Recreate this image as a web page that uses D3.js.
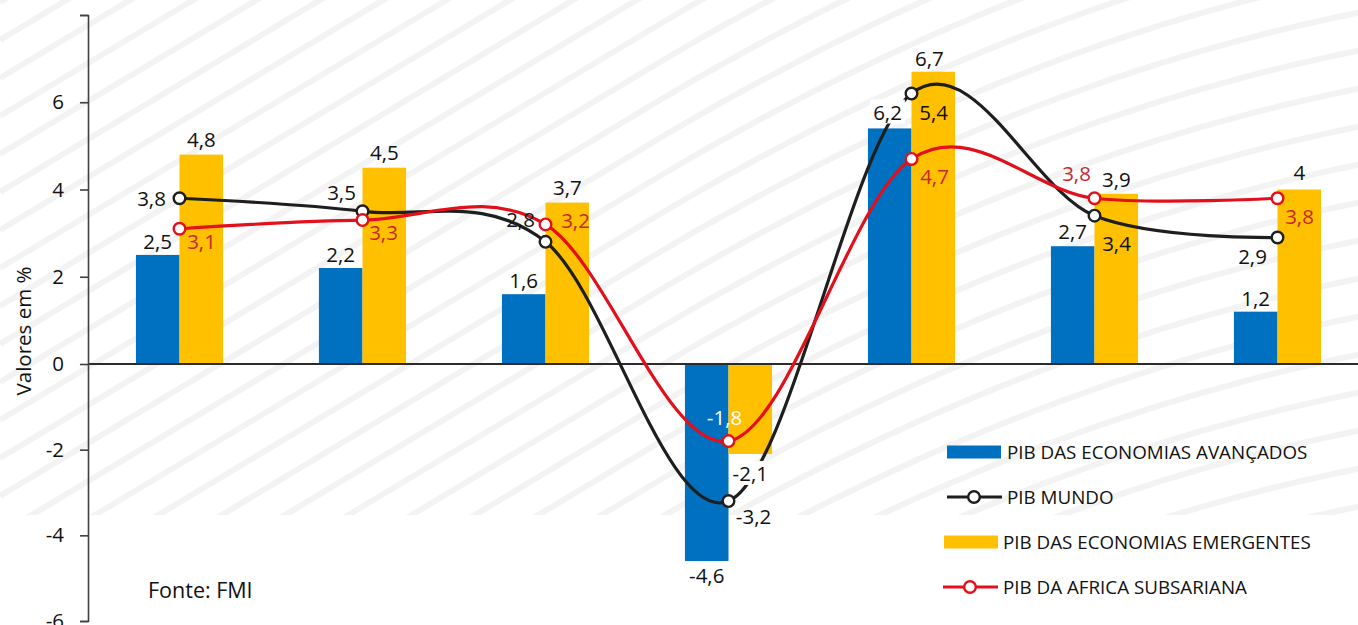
<!DOCTYPE html>
<html>
<head>
<meta charset="utf-8">
<script src="https://cdn.jsdelivr.net/npm/d3@7"></script>
<style>
  html, body { margin: 0; padding: 0; background: #ffffff; }
  svg { display: block; }
  text { font-family: "Open Sans", Lato, sans-serif; }
</style>
</head>
<body>
<svg id="chart" width="1358" height="625"></svg>
<script>
// Crescimento do PIB (%) por ano
const categories = ["2017", "2018", "2019", "2020", "2021", "2022", "2023"];
const avancadas  = [2.5, 2.2, 1.6, -4.6, 5.4, 2.7, 1.2];
const emergentes = [4.8, 4.5, 3.7, -2.1, 6.7, 3.9, 4.0];
const mundo      = [3.8, 3.5, 2.8, -3.2, 6.2, 3.4, 2.9];
const africa     = [3.1, 3.3, 3.2, -1.8, 4.7, 3.8, 3.8];
const yTicks     = [-6, -4, -2, 0, 2, 4, 6, 8];

const seriesNames = {
  avancadas:  "PIB DAS ECONOMIAS AVANÇADOS",
  mundo:      "PIB MUNDO",
  emergentes: "PIB DAS ECONOMIAS EMERGENTES",
  africa:     "PIB DA AFRICA SUBSARIANA"
};

// label placement relative to each mark's end point [dx, dy]
const offAvancadas  = [[0,-14],[0,-14],[0,-14],[0,14],[44,-16],[0,-15],[0,-14]];
const offEmergentes = [[0,-16],[0,-16],[0,-16],[0,19],[-4,-14],[0,-15],[0,-18]];
const offMundo      = [[-28,0],[-21,-19],[-25,-23],[25,15],[-24,18],[22,27],[-25,19]];
const offAfrica     = [[22,12],[21,12],[30,-4],[-4,-24],[23,17],[-18,-25],[22,18]];
// labels drawn on a white box, and labels drawn in white
const boxedLabels = [["emergentes", 3], ["mundo", 4]];
const whiteLabels = [["africa", 3]];

const W = 1358, H = 625;
const colors = { blue: "#0070c0", yellow: "#ffc000", black: "#1e1e1e", red: "#e3101b", redText: "#c5282f" };
const FONT = "'Open Sans', Lato, sans-serif";

const svg = d3.select("#chart");

// ---- background: faint curved diagonal stripes ----
svg.append("rect").attr("width", W).attr("height", H).attr("fill", "#ffffff");
svg.append("clipPath").attr("id", "bgclip")
  .append("rect").attr("x", 0).attr("y", 0).attr("width", W).attr("height", 515);
const rise = x => x <= 650 ? 0.6 * x : 390 + (x - 650) * (0.6 - 0.2 * (x - 650) / 708);
const stripeG = svg.append("g").attr("clip-path", "url(#bgclip)");
const xs = d3.range(0, W + 20, 20);
for (let k = -2; k < 36; k++) {
  const y0 = k * 38;
  stripeG.append("path")
    .attr("d", d3.line()(xs.map(x => [x, y0 - rise(x) + 40])))
    .attr("fill", "none")
    .attr("stroke", "#f3f3f3")
    .attr("stroke-width", 6);
}

// ---- scales ----
const x0 = d3.scaleBand().domain(categories).range([88, 1369]).padding(0);
const x1 = d3.scaleBand().domain(["avancadas", "emergentes"])
  .range([0, x0.bandwidth()]).paddingInner(0).paddingOuter(1.1);
const y = d3.scaleLinear().domain([-6, 0, 8]).range([621, 364, 15]);
const cx = c => x0(c) + x0.bandwidth() / 2;

// ---- bars ----
const barSeries = [
  { key: "avancadas", values: avancadas, color: colors.blue },
  { key: "emergentes", values: emergentes, color: colors.yellow }
];
barSeries.forEach(s => {
  svg.append("g").selectAll("rect")
    .data(s.values)
    .join("rect")
    .attr("x", (d, i) => x0(categories[i]) + x1(s.key))
    .attr("width", x1.bandwidth())
    .attr("y", d => y(Math.max(0, d)))
    .attr("height", d => Math.abs(y(d) - y(0)))
    .attr("fill", s.color);
});

// ---- zero line ----
svg.append("line")
  .attr("x1", 88).attr("x2", W)
  .attr("y1", y(0)).attr("y2", y(0))
  .attr("stroke", "#2b2b2b").attr("stroke-width", 2);

// ---- smoothed lines ----
const lineSeries = [
  { key: "mundo", values: mundo, color: colors.black },
  { key: "africa", values: africa, color: colors.red }
];
const lineGen = d3.line()
  .x((d, i) => cx(categories[i]))
  .y(d => y(d))
  .curve(d3.curveCardinal.tension(0));
lineSeries.forEach(s => {
  svg.append("path")
    .attr("d", lineGen(s.values))
    .attr("fill", "none")
    .attr("stroke", s.color)
    .attr("stroke-width", 3.2);
});
lineSeries.forEach(s => {
  svg.append("g").selectAll("circle")
    .data(s.values)
    .join("circle")
    .attr("cx", (d, i) => cx(categories[i]))
    .attr("cy", d => y(d))
    .attr("r", 5.8)
    .attr("fill", "#ffffff")
    .attr("stroke", s.color)
    .attr("stroke-width", 2.4);
});

// ---- data labels ----
const fmt = v => String(v).replace(".", ",");
const isIn = (list, key, i) => list.some(([k, j]) => k === key && j === i);
const labelSets = [
  { key: "avancadas", values: avancadas, off: offAvancadas, color: "#111111",
    ax: i => x0(categories[i]) + x1("avancadas") + x1.bandwidth() / 2 },
  { key: "emergentes", values: emergentes, off: offEmergentes, color: "#111111",
    ax: i => x0(categories[i]) + x1("emergentes") + x1.bandwidth() / 2 },
  { key: "mundo", values: mundo, off: offMundo, color: "#111111", ax: i => cx(categories[i]) },
  { key: "africa", values: africa, off: offAfrica, color: colors.redText, ax: i => cx(categories[i]) }
];
const labelG = svg.append("g");
labelSets.forEach(s => {
  s.values.forEach((v, i) => {
    const lx = s.ax(i) + s.off[i][0];
    const ly = y(v) + s.off[i][1];
    const t = labelG.append("text")
      .attr("x", lx).attr("y", ly)
      .attr("text-anchor", "middle")
      .attr("dominant-baseline", "central")
      .attr("font-size", 20.5)
      .attr("fill", isIn(whiteLabels, s.key, i) ? "#ffffff" : s.color)
      .text(fmt(v));
    if (isIn(boxedLabels, s.key, i)) {
      const bb = t.node().getBBox();
      labelG.insert("rect", () => t.node())
        .attr("x", bb.x - 3).attr("y", bb.y + 2)
        .attr("width", bb.width + 6).attr("height", bb.height - 4)
        .attr("fill", "#ffffff");
    }
  });
});

// ---- y axis ----
const yAxis = d3.axisLeft(y)
  .tickValues(yTicks)
  .tickSize(8)
  .tickPadding(16)
  .tickFormat(d => d === 8 ? "" : String(d));
const gy = svg.append("g").attr("transform", "translate(88,0)").call(yAxis);
gy.select(".domain").attr("stroke", "#404040").attr("stroke-width", 1.6);
gy.selectAll(".tick line").attr("stroke", "#404040").attr("stroke-width", 1.6);
gy.selectAll(".tick text")
  .attr("font-family", FONT)
  .attr("font-size", 20.5).attr("fill", "#111111");

svg.append("text")
  .attr("transform", "translate(23,331) rotate(-90)")
  .attr("text-anchor", "middle")
  .attr("dominant-baseline", "central")
  .attr("font-size", 20.5)
  .attr("fill", "#111111")
  .text("Valores em %");

svg.append("text")
  .attr("x", 148).attr("y", 589)
  .attr("dominant-baseline", "central")
  .attr("font-size", 21.5)
  .attr("fill", "#111111")
  .text("Fonte: FMI");

// ---- legend ----
const legend = svg.append("g");
const legendItems = [
  { key: "avancadas", type: "bar", color: colors.blue, x: 947, y: 452, tx: 1007 },
  { key: "mundo", type: "line", color: colors.black, x: 947, y: 497, tx: 1007 },
  { key: "emergentes", type: "bar", color: colors.yellow, x: 944, y: 542, tx: 1003 },
  { key: "africa", type: "line", color: colors.red, x: 943, y: 587, tx: 1003 }
];
legendItems.forEach(it => {
  if (it.type === "bar") {
    legend.append("rect")
      .attr("x", it.x).attr("y", it.y - 6.5)
      .attr("width", 54).attr("height", 13)
      .attr("fill", it.color);
  } else {
    legend.append("line")
      .attr("x1", it.x).attr("x2", it.x + 55)
      .attr("y1", it.y).attr("y2", it.y)
      .attr("stroke", it.color).attr("stroke-width", 3.2);
    legend.append("circle")
      .attr("cx", it.x + 27).attr("cy", it.y).attr("r", 5.8)
      .attr("fill", "#ffffff").attr("stroke", it.color).attr("stroke-width", 2.4);
  }
  legend.append("text")
    .attr("x", it.tx).attr("y", it.y)
    .attr("dominant-baseline", "central")
    .attr("font-size", 18.8)
    .attr("fill", "#111111")
    .text(seriesNames[it.key]);
});
</script>
</body>
</html>
